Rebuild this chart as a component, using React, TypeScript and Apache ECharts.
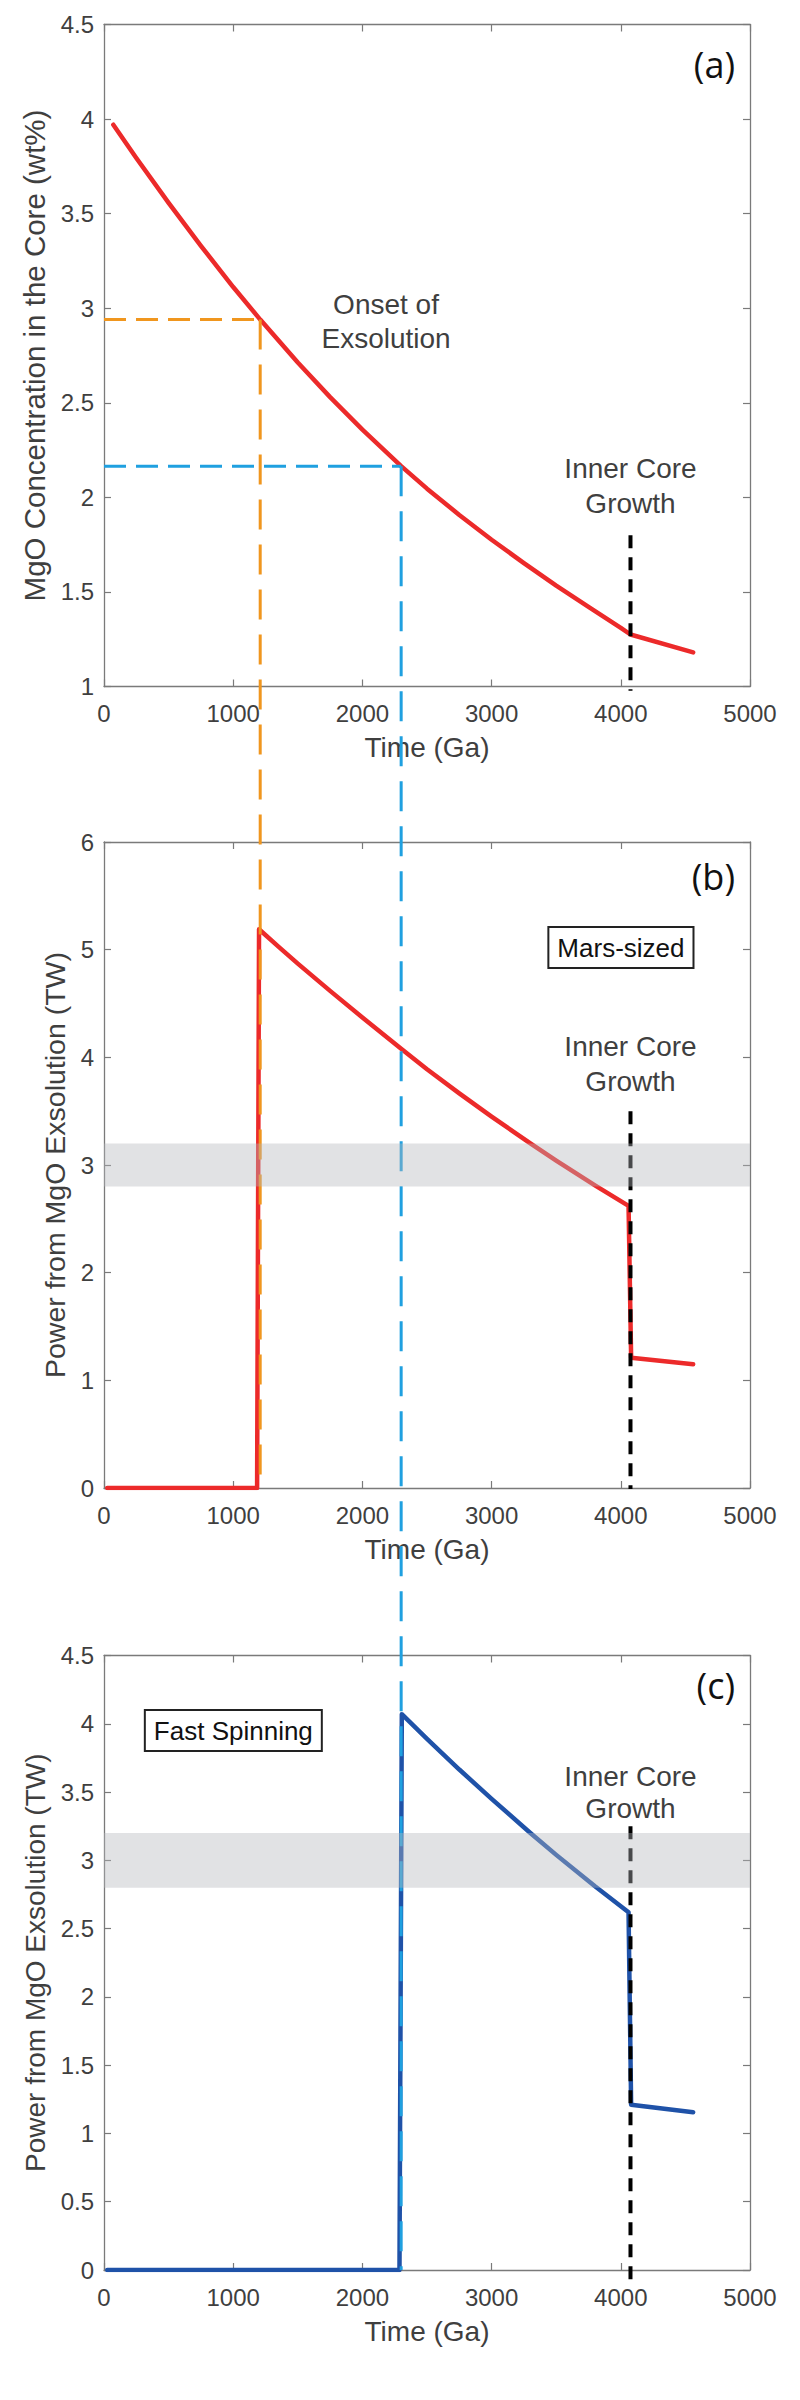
import React, { useEffect, useRef } from "react";
import * as echarts from "echarts";

// ---- Panel (a): MgO concentration in the core (wt%) vs time ----
const timeA = [72, 250, 500, 750, 1000, 1209, 1500, 1750, 2000, 2300, 2500, 2750, 3000, 3250, 3500, 3750, 4000, 4075, 4560];
const mgoA = [3.97, 3.794, 3.557, 3.33, 3.112, 2.94, 2.713, 2.53, 2.358, 2.165, 2.046, 1.907, 1.776, 1.652, 1.533, 1.421, 1.31, 1.275, 1.18];

// ---- Panel (b): Mars-sized, power from MgO exsolution (TW) ----
const timeB = [25, 1185, 1200, 1350, 1500, 1750, 2000, 2300, 2500, 2750, 3000, 3300, 3500, 3800, 4060, 4080, 4560];
const powerB = [0, 0, 5.19, 5.028, 4.87, 4.617, 4.37, 4.08, 3.89, 3.665, 3.45, 3.2, 3.04, 2.81, 2.62, 1.21, 1.15];

// ---- Panel (c): Fast spinning, power from MgO exsolution (TW) ----
const timeC = [25, 2287, 2305, 2500, 2750, 3000, 3300, 3500, 3800, 4060, 4080, 4560];
const powerC = [0, 0, 4.07, 3.89, 3.665, 3.45, 3.2, 3.04, 2.81, 2.62, 1.21, 1.155];

// ---- Axes ----
const xRange = [0, 5000];
const xStep = 1000;
const yRanges = [
  [1, 4.5],
  [0, 6],
  [0, 4.5],
];
const ySteps = [0.5, 1, 0.5];
const xName = "Time (Ga)";
const yNames = [
  "MgO Concentration in the Core (wt%)",
  "Power from MgO Exsolution (TW)",
  "Power from MgO Exsolution (TW)",
];
const panelLabels = ["(a)", "(b)", "(c)"];

// ---- Reference marks ----
const band = [2.8, 3.2];
const onsetMars = [1209, 2.94]; // time, MgO wt%
const onsetFast = [2300, 2.165];
const innerCoreTime = 4075;
const innerCoreTop = [1.8, 3.5, 3.25];
const innerCoreBottom = [0.978, -0.01, -0.07];

// ---- Annotation anchors (data coords) ----
const onsetText = { x: 2183, y: 2.93, text: "Onset of\nExsolution" };
const innerCoreText = [
  { x: 4075, y: 2.06 },
  { x: 4075, y: 3.94 },
  { x: 4075, y: 3.5 },
];
const panelLabelPos = [
  { x: 4884, y: 4.29 },
  { x: 4884, y: 5.675 },
  { x: 4884, y: 4.28 },
];
const boxes = [
  { panel: 1, x: 4001, y: 5.02, text: "Mars-sized" },
  { panel: 2, x: 1001, y: 3.95, text: "Fast Spinning" },
];

const RED = "#EC2A2A";
const DARKBLUE = "#1F52A8";
const ORANGE = "#F0961E";
const LIGHTBLUE = "#1FA0E0";

export default function App() {
  const ref = useRef<HTMLDivElement>(null);

  useEffect(() => {
    const chart = echarts.init(ref.current!, null, { renderer: "svg" });
    const FONT = "'Liberation Sans', Arial, Helvetica, sans-serif";
    const AX = "#7a7a7a";
    const TXT = "#3f3f3f";
    const fmt = (v: number) => String(v);

    const layout = [
      { top: 24.5, height: 662, nameGap: 52, nameSize: 29.5 },
      { top: 842, height: 646, nameGap: 31, nameSize: 28.5 },
      { top: 1655.5, height: 614.5, nameGap: 53, nameSize: 28 },
    ];

    const grid = layout.map((g) => ({ left: 104, right: 50, top: g.top, height: g.height }));
    const xAxis: any[] = [];
    const yAxis: any[] = [];
    for (let i = 0; i < 3; i++) {
      const line = { show: true, onZero: false, lineStyle: { color: AX, width: 1.3 } };
      const tick = { show: true, inside: true, length: 7, lineStyle: { color: AX, width: 1.2 } };
      const xc = {
        gridIndex: i,
        type: "value",
        min: xRange[0],
        max: xRange[1],
        interval: xStep,
        splitLine: { show: false },
        axisLine: line,
        axisTick: tick,
      };
      xAxis.push({
        ...xc,
        position: "bottom",
        name: xName,
        nameLocation: "middle",
        nameGap: 47,
        nameTextStyle: { fontSize: 28, color: TXT, fontFamily: FONT },
        axisLabel: { margin: 15, fontSize: 24, color: TXT, fontFamily: FONT, formatter: fmt },
      });
      xAxis.push({ ...xc, position: "top", axisLabel: { show: false } });
      const yc = {
        gridIndex: i,
        type: "value",
        min: yRanges[i][0],
        max: yRanges[i][1],
        interval: ySteps[i],
        splitLine: { show: false },
        axisLine: line,
        axisTick: tick,
      };
      yAxis.push({
        ...yc,
        position: "left",
        name: yNames[i],
        nameLocation: "middle",
        nameGap: layout[i].nameGap,
        nameTextStyle: { fontSize: layout[i].nameSize, color: TXT, fontFamily: FONT },
        axisLabel: { margin: 10, fontSize: 24, color: TXT, fontFamily: FONT, formatter: fmt },
      });
      yAxis.push({ ...yc, position: "right", axisLabel: { show: false } });
    }

    const mk = (t: number[], v: number[]) => t.map((x, i) => [x, v[i]]);
    const series = [
      { data: mk(timeA, mgoA), color: RED, idx: 0 },
      { data: mk(timeB, powerB), color: RED, idx: 2 },
      { data: mk(timeC, powerC), color: DARKBLUE, idx: 4 },
    ].map((s) => ({
      type: "line",
      xAxisIndex: s.idx,
      yAxisIndex: s.idx,
      data: s.data,
      symbol: "none",
      showSymbol: false,
      lineStyle: { color: s.color, width: 4.5, join: "round", cap: "round" },
      z: 2,
    }));

    chart.setOption({ animation: false, grid, xAxis, yAxis, series });

    const px = (i: number, x: number, y: number) =>
      chart.convertToPixel({ xAxisIndex: 2 * i, yAxisIndex: 2 * i } as any, [x, y]) as number[];

    const dline = (p1: number[], p2: number[], color: string, width: number, dash: number[], z: number) => ({
      type: "line",
      silent: true,
      z,
      shape: { x1: p1[0], y1: p1[1], x2: p2[0], y2: p2[1] },
      style: { stroke: color, lineWidth: width, lineDash: dash, fill: null },
    });

    const g: any[] = [];
    // horizontal guides in (a)
    g.push(dline(px(0, 0, onsetMars[1]), px(0, onsetMars[0], onsetMars[1]), ORANGE, 3, [22, 10], 10));
    g.push(dline(px(0, 0, onsetFast[1]), px(0, onsetFast[0], onsetFast[1]), LIGHTBLUE, 3, [22, 10], 10));
    // vertical guides spanning panels
    g.push(dline(px(0, onsetMars[0], onsetMars[1]), px(1, onsetMars[0], 0), ORANGE, 3, [30, 15], 10));
    g.push(dline(px(0, onsetFast[0], onsetFast[1]), px(2, onsetFast[0], 0), LIGHTBLUE, 3, [30, 15], 10));
    // inner core growth markers
    for (let i = 0; i < 3; i++) {
      g.push(dline(px(i, innerCoreTime, innerCoreTop[i]), px(i, innerCoreTime, innerCoreBottom[i]), "#000", 4, [13, 9], 11));
    }
    // grey band
    for (let i = 1; i < 3; i++) {
      const p1 = px(i, xRange[0], band[1]);
      const p2 = px(i, xRange[1], band[0]);
      g.push({
        type: "rect",
        silent: true,
        z: 20,
        shape: { x: p1[0], y: p1[1], width: p2[0] - p1[0], height: p2[1] - p1[1] },
        style: { fill: "rgba(180,182,188,0.4)" },
      });
    }
    const txt = (p: number[], text: string, extra: any) => ({
      type: "text",
      silent: true,
      z: 30,
      x: p[0],
      y: p[1],
      style: {
        text,
        fill: TXT,
        fontSize: 28,
        fontFamily: FONT,
        align: "center",
        textAlign: "center",
        verticalAlign: "middle",
        textVerticalAlign: "middle",
        ...extra,
      },
    });
    g.push(txt(px(0, onsetText.x, onsetText.y), onsetText.text, { lineHeight: 34 }));
    innerCoreText.forEach((t, i) => {
      g.push(txt(px(i, t.x, t.y), "Inner Core\nGrowth", { lineHeight: i === 2 ? 32 : 35 }));
    });
    panelLabelPos.forEach((t, i) => {
      g.push(
        txt(px(i, t.x, t.y), panelLabels[i], {
          fill: "#111",
          fontSize: 36,
          fontFamily: "'Open Sans', 'Noto Sans', sans-serif",
          align: "right",
          textAlign: "right",
        })
      );
    });
    boxes.forEach((b) => {
      g.push(
        txt(px(b.panel, b.x, b.y), b.text, {
          fill: "#111",
          fontSize: 26,
          backgroundColor: "#fff",
          borderColor: "#222",
          borderWidth: 2,
          padding: [7, 8, 6, 8],
        })
      );
    });

    chart.setOption({ graphic: { elements: g } });

    return () => chart.dispose();
  }, []);

  return <div ref={ref} style={{ position: "absolute", left: 0, top: 0, width: 800, height: 2400 }} />;
}
